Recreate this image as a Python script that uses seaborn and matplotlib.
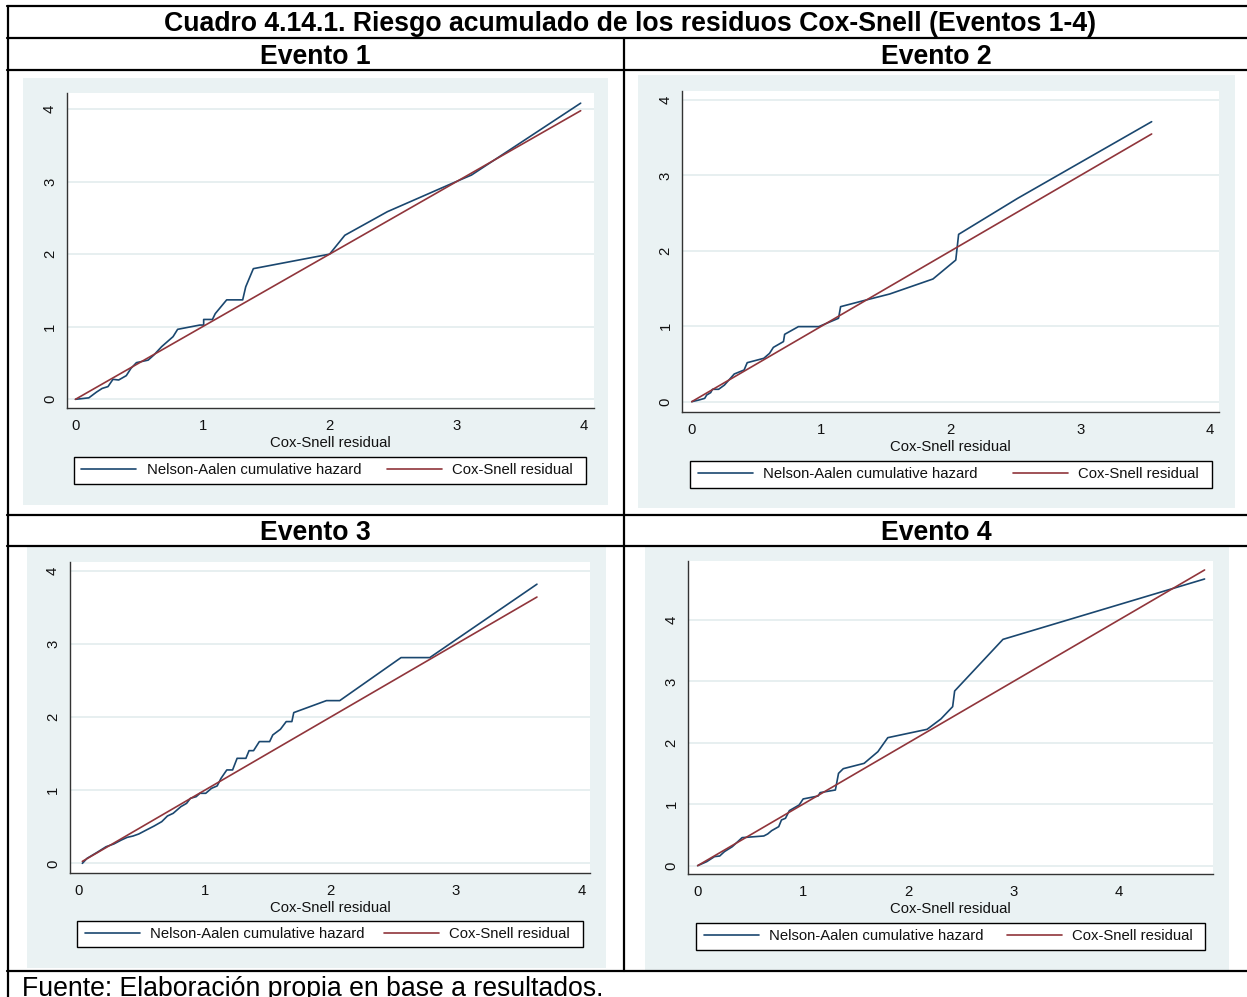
import matplotlib
matplotlib.use("Agg")
import matplotlib.pyplot as plt
import seaborn as sns
import pandas as pd
from matplotlib.lines import Line2D
from matplotlib.patches import Rectangle

# ---------------- data ----------------
event_titles = ["Evento 1", "Evento 2", "Evento 3", "Evento 4"]

ev1_na_x = [0, 0.105, 0.166, 0.21, 0.256, 0.295, 0.34, 0.40, 0.437, 0.48, 0.572, 0.617,
            0.678, 0.723, 0.768, 0.804, 0.979, 1.009, 1.009, 1.078, 1.10, 1.19, 1.316,
            1.34, 1.40, 2.0, 2.12, 2.455, 2.997, 3.117, 3.976]
ev1_na_y = [0, 0.02, 0.10, 0.15, 0.175, 0.275, 0.266, 0.326, 0.427, 0.505, 0.54, 0.61,
            0.725, 0.794, 0.863, 0.964, 1.023, 1.023, 1.10, 1.10, 1.18, 1.37, 1.37,
            1.55, 1.80, 2.0, 2.26, 2.585, 3.0, 3.09, 4.08]
ev1_cs = [0, 3.976]

ev2_na_x = [0, 0.055, 0.10, 0.115, 0.146, 0.16, 0.207, 0.252, 0.328, 0.404, 0.428, 0.556,
            0.60, 0.63, 0.708, 0.717, 0.823, 0.98, 1.133, 1.149, 1.345, 1.528, 1.862,
            2.038, 2.06, 2.515, 3.55]
ev2_na_y = [0, 0.022, 0.044, 0.088, 0.12, 0.164, 0.164, 0.22, 0.367, 0.42, 0.517, 0.575,
            0.64, 0.72, 0.797, 0.893, 0.995, 0.995, 1.106, 1.26, 1.348, 1.428, 1.627,
            1.878, 2.219, 2.696, 3.713]
ev2_cs = [0, 3.55]

ev3_na_x = [0.027, 0.064, 0.14, 0.216, 0.277, 0.338, 0.384, 0.43, 0.476, 0.537, 0.598,
            0.659, 0.704, 0.75, 0.811, 0.857, 0.887, 0.933, 0.963, 1.009, 1.055, 1.10,
            1.131, 1.177, 1.223, 1.259, 1.329, 1.354, 1.39, 1.436, 1.518, 1.543, 1.604,
            1.65, 1.695, 1.71, 1.97, 2.076, 2.564, 2.793, 3.646]
ev3_na_y = [0, 0.068, 0.146, 0.228, 0.265, 0.32, 0.356, 0.374, 0.402, 0.457, 0.511,
            0.571, 0.648, 0.685, 0.776, 0.822, 0.89, 0.913, 0.959, 0.959, 1.027, 1.06,
            1.164, 1.279, 1.279, 1.438, 1.438, 1.543, 1.543, 1.667, 1.667, 1.758, 1.836,
            1.941, 1.941, 2.064, 2.228, 2.228, 2.817, 2.817, 3.822]
ev3_cs = [0.027, 3.646]

ev4_na_x = [0, 0.086, 0.16, 0.209, 0.254, 0.329, 0.422, 0.628, 0.665, 0.703, 0.77, 0.796,
            0.834, 0.871, 0.964, 1.002, 1.144, 1.163, 1.308, 1.338, 1.383, 1.581, 1.712,
            1.806, 2.179, 2.31, 2.422, 2.441, 2.90, 4.815]
ev4_na_y = [0, 0.065, 0.147, 0.157, 0.228, 0.309, 0.456, 0.483, 0.516, 0.57, 0.635, 0.744,
            0.771, 0.896, 0.988, 1.086, 1.134, 1.189, 1.232, 1.503, 1.579, 1.666, 1.856,
            2.084, 2.22, 2.388, 2.589, 2.844, 3.685, 4.668]
ev4_cs = [0, 4.815]

tick_values = [0, 1, 2, 3, 4]
na_label = "Nelson-Aalen cumulative hazard"
cs_label = "Cox-Snell residual"
x_title = "Cox-Snell residual"
table_title = "Cuadro 4.14.1. Riesgo acumulado de los residuos Cox-Snell (Eventos 1-4)"
source_note = "Fuente: Elaboración propia en base a resultados."

# ---------------- style ----------------
sns.set_style("white")
plt.rcParams["font.family"] = ["Liberation Sans", "DejaVu Sans"]
plt.rcParams["text.color"] = "black"

NAVY = "#1A476F"
MAROON = "#90353B"
REGION = "#EAF2F3"
GRID = "#E3ECEE"
AXIS = "#333333"

W, H = 1247, 997
fig = plt.figure(figsize=(W / 100, H / 100), dpi=100)


def frac_box(x0, y0, x1, y1):
    """pixel box (top-left origin) -> figure fraction [left, bottom, width, height]"""
    return [x0 / W, 1 - y1 / H, (x1 - x0) / W, (y1 - y0) / H]


# layout of each graph: region, plot area, legend box (pixels), axis limits
layout = [
    dict(region=(23, 78, 608, 505), plot=(66.7, 93.3, 594, 408.3),
         legend=(73.6, 456.7, 585.6, 484.3), xlim=(-0.069, 4.081), ylim=(-0.124, 4.216)),
    dict(region=(638, 75, 1235, 508), plot=(682.3, 90.7, 1219, 411.7),
         legend=(690, 460.7, 1211.6, 488.3), xlim=(-0.073, 4.07), ylim=(-0.133, 4.124)),
    dict(region=(27, 547, 605.5, 967.7), plot=(69.8, 561.7, 590.2, 872.7),
         legend=(77.4, 920.7, 582.6, 947.3), xlim=(-0.073, 4.07), ylim=(-0.128, 4.13)),
    dict(region=(645, 547, 1229, 970), plot=(688.2, 560.7, 1213.2, 874.3),
         legend=(696, 922.7, 1205.4, 950), xlim=(-0.09, 4.897), ylim=(-0.141, 4.966)),
]

series = [
    (ev1_na_x, ev1_na_y, ev1_cs),
    (ev2_na_x, ev2_na_y, ev2_cs),
    (ev3_na_x, ev3_na_y, ev3_cs),
    (ev4_na_x, ev4_na_y, ev4_cs),
]

FS = 10.7
INK = "#111111"

for spec, (na_x, na_y, cs) in zip(layout, series):
    rx0, ry0, rx1, ry1 = spec["region"]
    fig.add_artist(Rectangle((rx0 / W, 1 - ry1 / H), (rx1 - rx0) / W, (ry1 - ry0) / H,
                             transform=fig.transFigure, facecolor=REGION,
                             edgecolor="none", zorder=-5))
    ax = fig.add_axes(frac_box(*spec["plot"]))
    ax.set_facecolor("white")

    na_df = pd.DataFrame({"resid": na_x, "hazard": na_y})
    cs_df = pd.DataFrame({"resid": cs, "hazard": cs})
    sns.lineplot(data=na_df, x="resid", y="hazard", ax=ax, color=NAVY, lw=1.2,
                 estimator=None, sort=False, label=na_label)
    sns.lineplot(data=cs_df, x="resid", y="hazard", ax=ax, color=MAROON, lw=1.2,
                 estimator=None, sort=False, label=cs_label)

    ax.set_xlim(*spec["xlim"])
    ax.set_ylim(*spec["ylim"])
    ax.set_xticks(tick_values)
    ax.set_yticks(tick_values)
    ax.set_xticklabels([str(v) for v in tick_values])
    ax.set_yticklabels([str(v) for v in tick_values])
    ax.set_xlabel(x_title, fontsize=FS, labelpad=2, color=INK)
    ax.set_ylabel("")

    sns.despine(ax=ax)
    for side in ("left", "bottom"):
        ax.spines[side].set_color(AXIS)
        ax.spines[side].set_linewidth(1.0)
    ax.tick_params(axis="both", direction="out", length=5, width=0.9, color=AXIS,
                   labelsize=FS, labelcolor=INK)
    ax.tick_params(axis="x", pad=3)
    ax.tick_params(axis="y", pad=2, labelrotation=90)
    plt.setp(ax.get_yticklabels(), va="center")

    ax.grid(axis="y", color=GRID, lw=1.2)
    ax.grid(axis="x", visible=False)
    ax.set_axisbelow(True)

    # legend frame drawn as its own box; entries laid out inside it
    lx0, ly0, lx1, ly1 = spec["legend"]
    fig.add_artist(Rectangle((lx0 / W, 1 - ly1 / H), (lx1 - lx0) / W, (ly1 - ly0) / H,
                             transform=fig.transFigure, facecolor="white",
                             edgecolor="black", lw=1.0, zorder=-1))
    handles, labels = ax.get_legend_handles_labels()
    leg = ax.legend(handles, labels, loc="center",
                    bbox_to_anchor=frac_box(lx0 + 2.5, ly0, lx1 - 7.5, ly1),
                    bbox_transform=fig.transFigure, mode="expand", ncol=2,
                    frameon=False, borderpad=0.35, handlelength=3.7,
                    handletextpad=0.7, fontsize=FS, borderaxespad=0)
    for t in leg.get_texts():
        t.set_color(INK)

# ---------------- table frame ----------------
def hline(y, x0=7, x1=W):
    fig.add_artist(Line2D([x0 / W, x1 / W], [1 - y / H, 1 - y / H],
                          transform=fig.transFigure, color="black", lw=1.6, zorder=5))


def vline(x, y0, y1):
    fig.add_artist(Line2D([x / W, x / W], [1 - y0 / H, 1 - y1 / H],
                          transform=fig.transFigure, color="black", lw=1.6, zorder=5))


for y in (6.5, 38, 70, 514.5, 546, 971):
    hline(y)
vline(7.5, 5.8, H)
vline(624, 38, 971)

fig.text(630 / W, 1 - 31 / H, table_title, ha="center", va="baseline",
         fontsize=19.2, fontweight="bold", color="black")
for title, (cx, by) in zip(event_titles, [(315.5, 63.5), (936, 63.5),
                                            (315.5, 539.5), (936, 539.5)]):
    fig.text(cx / W, 1 - by / H, title, ha="center", va="baseline",
             fontsize=19.2, fontweight="bold", color="black")
fig.text(22 / W, 1 - 995.5 / H, source_note, ha="left", va="baseline",
         fontsize=19.2, color="black")

fig.savefig("out.png", dpi=100)
